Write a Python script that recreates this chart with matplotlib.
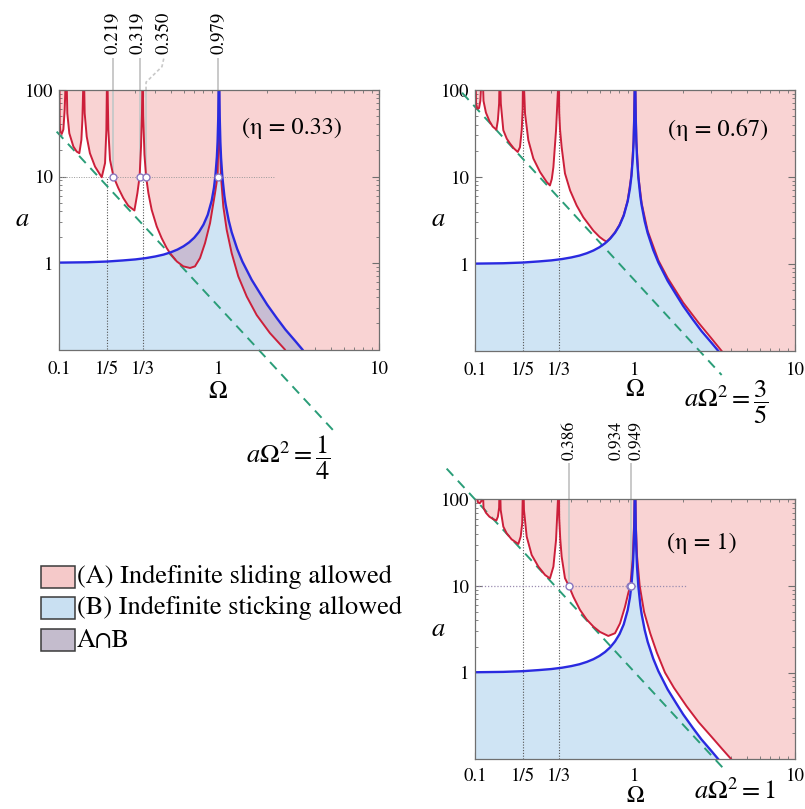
import matplotlib
matplotlib.use("Agg")
import matplotlib.pyplot as plt
import numpy as np
from matplotlib.patches import Rectangle
from matplotlib import transforms
from matplotlib.ticker import LogLocator, NullFormatter

plt.rcParams['font.family'] = ['STIXGeneral', 'DejaVu Serif']
plt.rcParams['mathtext.fontset'] = 'stix'

# ---------------- data ----------------
# sticking boundary (blue), same in all panels
blue_left_x = [0.1, 0.15, 0.2, 0.25, 0.3, 0.35, 0.4, 0.45, 0.5, 0.55, 0.6, 0.65, 0.7,
               0.75, 0.8, 0.85, 0.9, 0.93, 0.95, 0.97, 0.98, 0.99, 0.995, 0.998]
blue_left_a = [1.01, 1.02, 1.04, 1.07, 1.10, 1.14, 1.19, 1.25, 1.33, 1.43, 1.56, 1.73, 1.96,
               2.29, 2.78, 3.60, 5.26, 7.4, 10.3, 16.9, 25.3, 50, 100, 250]
blue_right_x = [1.002, 1.005, 1.01, 1.02, 1.03, 1.05, 1.08, 1.1, 1.15, 1.2, 1.3, 1.4, 1.6,
                1.8, 2.0, 2.3, 2.6, 3.0, 3.32]
blue_right_a = [250, 100, 50, 25, 16.4, 9.8, 6.0, 4.76, 3.10, 2.27, 1.45, 1.04, 0.64,
                0.45, 0.33, 0.23, 0.17, 0.125, 0.10]

# sliding boundary (red), eta = 0.33
red1_x = [0.1005, 0.101, 0.102, 0.104, 0.1065, 0.1085, 0.1111,
          0.1127, 0.116, 0.123, 0.129, 0.134, 0.138, 0.140, 0.1429,
          0.1447, 0.149, 0.156, 0.168, 0.180, 0.185, 0.194, 0.1977, 0.2,
          0.2034, 0.2083, 0.219, 0.235, 0.2525, 0.271, 0.296, 0.309, 0.319, 0.3256, 0.330, 0.3333,
          0.336, 0.342, 0.350, 0.362, 0.3795, 0.408, 0.438, 0.471, 0.494, 0.544, 0.598, 0.659,
          0.708, 0.761, 0.818, 0.879, 0.922, 0.944, 0.979, 0.993, 1.0,
          1.004, 1.0145, 1.029, 1.064, 1.117, 1.20, 1.32, 1.49, 1.72, 2.08, 2.58]
red1_a = [200, 41, 33, 31, 35, 59, 200,
          53.8, 31.6, 22.2, 19.4, 18.6, 26.5, 45.1, 200,
          53.8, 28.9, 18.6, 13.0, 10.6, 9.8, 14.3, 34.5, 200,
          34.5, 15.6, 10, 7.33, 5.62, 4.59, 4.05, 6.42, 10, 22.2, 53.8, 200,
          50, 18, 10, 6.42, 4.12, 2.65, 1.94, 1.49, 1.30, 1.045, 0.915, 0.876,
          0.915, 1.14, 1.70, 2.89, 4.92, 6.4, 10, 30, 200,
          60, 22.2, 10, 4.5, 2.42, 1.30, 0.70, 0.41, 0.25, 0.155, 0.1]

# eta = 0.67
red2_x = [0.1005, 0.1015, 0.1035, 0.106, 0.108, 0.1111,
          0.113, 0.117, 0.123, 0.129, 0.136, 0.139, 0.1415, 0.1429,
          0.145, 0.1503, 0.158, 0.1656, 0.175, 0.185, 0.191, 0.196, 0.1985, 0.2,
          0.2054, 0.2154, 0.2316, 0.255, 0.2807, 0.294, 0.302, 0.309, 0.321, 0.330, 0.3333,
          0.336, 0.34, 0.348, 0.365, 0.393, 0.432, 0.475, 0.549, 0.60, 0.634, 0.665,
          0.70, 0.75, 0.80, 0.85, 0.90, 0.95, 0.98, 0.995, 1.0,
          1.005, 1.02, 1.05, 1.1, 1.2, 1.4, 1.6, 2.0, 2.5, 3.0, 3.48]
red2_a = [200, 70, 61, 62, 75, 200,
          75, 55, 44, 38, 35, 45, 70, 200,
          70, 34.5, 27.5, 24.2, 21.3, 19.4, 22, 35, 60, 200,
          53.8, 26.5, 16.3, 11.4, 8.75, 8.0, 9.5, 13.0, 34.5, 100, 200,
          55, 35, 22, 11, 7.0, 4.7, 3.45, 2.42, 2.05, 1.9, 1.8,
          1.98, 2.31, 2.81, 3.65, 5.35, 10.5, 26, 100, 200,
          100, 26, 10.2, 5.0, 2.4, 1.1, 0.69, 0.36, 0.21, 0.14, 0.1]

# eta = 1
red3_x = [0.1005, 0.104, 0.107, 0.1095, 0.1111,
          0.113, 0.117, 0.123, 0.13, 0.136, 0.139, 0.1415, 0.1429,
          0.1447, 0.1503, 0.1577, 0.1694, 0.1866, 0.193, 0.1973, 0.2,
          0.2023, 0.2104, 0.226, 0.249, 0.274, 0.294, 0.309, 0.321, 0.330, 0.3333,
          0.336, 0.341, 0.348, 0.365, 0.386, 0.412, 0.453, 0.499, 0.549, 0.604, 0.681,
          0.75, 0.806, 0.866, 0.908, 0.934, 0.967, 0.99, 1.0,
          1.004, 1.011, 1.03, 1.07, 1.14, 1.245, 1.37, 1.54, 1.75, 2.1, 2.5, 3.0, 3.5, 4.0]
red3_a = [200, 93, 90, 95, 200,
          80, 70, 63, 59, 57, 63, 80, 200,
          75.4, 48.4, 40.5, 34.5, 30.5, 37.1, 52.8, 200,
          75.4, 37.1, 22.8, 16.7, 13.4, 12.2, 16.7, 34.0, 100, 200,
          60, 35, 21.8, 12.3, 10, 7.5, 5.3, 4.1, 3.4, 2.95, 2.65,
          2.85, 3.7, 5.75, 8.3, 10, 20, 60, 200,
          150, 55, 22, 10, 5, 2.84, 1.7, 1.0, 0.67, 0.41, 0.268, 0.183, 0.132, 0.1]

# dashed asymptotes a*Omega^2 = const (end points)
green1_x = [0.0967, 5.16]
green1_a = [33.0, 0.0117]
green2_x = [0.083, 3.48]
green2_a = [93.0, 0.053]
green3_x = [0.0665, 3.74]
green3_a = [226.0, 0.0715]

# crossing markers at a = 10
mark1_x = [0.219, 0.319, 0.350, 0.979]
mark3_x = [0.386, 0.934, 0.949]
mark_a = 10

xtick_vals = [0.1, 0.2, 1/3, 1, 10]
xtick_labels = ['0.1', '1/5', '1/3', '1', '10']
ytick_vals = [1, 10, 100]
ytick_labels = ['1', '10', '100']
eta_labels = ['(η = 0.33)', '(η = 0.67)', '(η = 1)']
legend_labels = ['(A) Indefinite sliding allowed', '(B) Indefinite sticking allowed', 'A∩B']

# ---------------- style ----------------
PINK = '#F9D3D3'
BLUEF = '#CFE4F4'
OVER = '#C8BDD3'
RED = '#CC1F3A'
BLUE = '#2A2AE0'
GREEN = '#2A9D78'
FRAME = '#6f6f6f'

W, H = 805, 809
fig = plt.figure(figsize=(W / 100, H / 100), dpi=100)


def fx(px):
    return px / W


def fy(py):
    return 1 - py / H


def make_ax(x0, x1, y0, y1):
    return fig.add_axes([fx(x0), fy(y1), (x1 - x0) / W, (y1 - y0) / H])


def panel(ax, rx, ra, gx, ga, xpad=8):
    ax.set_xscale('log')
    ax.set_yscale('log')
    ax.set_xlim(0.1, 10)
    ax.set_ylim(0.1, 100)
    # region A : above red boundary
    Ax = list(rx) + [10, 10, rx[0]]
    Aa = list(ra) + [0.05, 400, 400]
    ax.fill(Ax, Aa, color=PINK, lw=0, zorder=1)
    # region B : below blue boundary
    Bx = list(blue_left_x) + list(blue_right_x) + [blue_right_x[-1], 0.1]
    Ba = list(blue_left_a) + list(blue_right_a) + [0.05, 0.05]
    polyB = ax.fill(Bx, Ba, color=BLUEF, lw=0, zorder=2)[0]
    polyO = ax.fill(Ax, Aa, color=OVER, lw=0, zorder=3)[0]
    polyO.set_clip_path(polyB)
    polyO.set_clip_box(ax.bbox)
    # curves
    ax.plot(gx, ga, color=GREEN, lw=1.4, ls=(0, (5, 3.5)), zorder=5, clip_on=False)
    ax.plot(rx, ra, color=RED, lw=1.4, zorder=6)
    ax.plot(blue_left_x, blue_left_a, color=BLUE, lw=1.7, zorder=7)
    ax.plot(blue_right_x, blue_right_a, color=BLUE, lw=1.7, zorder=7)
    # ticks
    ax.set_xticks(xtick_vals)
    ax.set_xticklabels(xtick_labels)
    ax.set_yticks(ytick_vals)
    ax.set_yticklabels(ytick_labels)
    ax.xaxis.set_minor_locator(LogLocator(base=10, subs=np.arange(2, 10) * 1.0, numticks=20))
    ax.yaxis.set_minor_locator(LogLocator(base=10, subs=np.arange(2, 10) * 1.0, numticks=20))
    ax.xaxis.set_minor_formatter(NullFormatter())
    ax.yaxis.set_minor_formatter(NullFormatter())
    ax.tick_params(which='both', direction='in', top=True, right=True, color=FRAME)
    ax.tick_params(which='major', length=5, width=0.8, labelsize=13.5)
    ax.tick_params(axis='x', which='major', pad=xpad)
    ax.tick_params(axis='y', which='major', pad=4)
    ax.tick_params(which='minor', length=2.5, width=0.6)
    for s in ax.spines.values():
        s.set_color(FRAME)
        s.set_linewidth(0.9)
        s.set_zorder(10)


ax1 = make_ax(59, 379, 90, 349.5)
ax2 = make_ax(475, 795, 90, 351)
ax3 = make_ax(475, 795, 499.3, 759.3)

panel(ax1, red1_x, red1_a, green1_x, green1_a)
panel(ax2, red2_x, red2_a, green2_x, green2_a)
panel(ax3, red3_x, red3_a, green3_x, green3_a, xpad=6.5)

DOT = dict(ls=(0, (1, 1.5)), color='#555555', lw=0.8, zorder=4)
# panel 1 guides
for v in [0.2, 1/3]:
    ax1.plot([v, v], [0.1, 10], **DOT)
ax1.plot([0.1, 2.2], [10, 10], ls=(0, (1, 1.5)), color='#999999', lw=0.7, zorder=4)
# panel 2 guides
for v in [0.2, 1/3]:
    ax2.plot([v, v], [0.1, 100], **DOT)
# panel 3 guides
for v in [0.2, 1/3]:
    ax3.plot([v, v], [0.1, 100], **DOT)
ax3.plot([0.1, 2.1], [10, 10], ls=(0, (1, 1.5)), color='#9a8cb0', lw=0.9, zorder=4)

LEAD = dict(color='#c9c9c9', lw=1.4, zorder=4, solid_capstyle='butt')
# leader lines panel 1
t1 = transforms.blended_transform_factory(ax1.transData, ax1.transAxes)
for v in [0.219, 0.319, 0.979]:
    ax1.plot([v, v], [mark_a, 100], **LEAD)
    ax1.plot([v, v], [1.0, 1.125], transform=t1, clip_on=False, **LEAD)
ax1.plot([0.350, 0.350], [mark_a, 100], **LEAD)
ax1.plot([0.350, 0.350, 0.44, 0.453], [1.0, 1.03, 1.09, 1.125], transform=t1,
         clip_on=False, color='#c9c9c9', lw=1.2, ls=(0, (2, 1.5)))
# leader lines panel 3
t3 = transforms.blended_transform_factory(ax3.transData, ax3.transAxes)
for v in [0.386, 0.94]:
    ax3.plot([v, v], [mark_a, 100], **LEAD)
    ax3.plot([v, v], [1.0, 1.14], transform=t3, clip_on=False, **LEAD)

MK = dict(marker='o', ms=5, mfc='white', mec='#8a78c0', mew=1.0, ls='none', zorder=9)
ax1.plot(mark1_x, [mark_a] * len(mark1_x), **MK)
ax3.plot(mark3_x, [mark_a] * len(mark3_x), **MK)

# rotated crossing labels
for px, txt in [(113, '0.219'), (138, '0.319'), (164, '0.350'), (218, '0.979')]:
    fig.text(fx(px), fy(33), txt, rotation=90, ha='center', va='center', fontsize=13.5)
for px, txt in [(570, '0.386'), (616, '0.934'), (636, '0.949')]:
    fig.text(fx(px), fy(440), txt, rotation=90, ha='center', va='center', fontsize=12.5)

# eta labels
fig.text(fx(292), fy(128), eta_labels[0], ha='center', va='center', fontsize=17.5)
fig.text(fx(718), fy(130), eta_labels[1], ha='center', va='center', fontsize=17.5)
fig.text(fx(702), fy(543), eta_labels[2], ha='center', va='center', fontsize=17.5)

# axis labels
for (px, py) in [(22, 220), (438, 220), (438, 630)]:
    fig.text(fx(px), fy(py), r'$a$', ha='center', va='center', fontsize=19)
for (px, py) in [(218, 392), (635, 390)]:
    fig.text(fx(px), fy(py), 'Ω', ha='center', va='center', fontsize=18)
fig.text(fx(635), fy(807), 'Ω', ha='center', va='bottom', fontsize=17)

# asymptote labels
fig.text(fx(288), fy(458), r'$a\Omega^2 = \dfrac{1}{4}$', ha='center', va='center', fontsize=19)
fig.text(fx(726), fy(402), r'$a\Omega^2 = \dfrac{3}{5}$', ha='center', va='center', fontsize=19)
fig.text(fx(735), fy(792), r'$a\Omega^2 = 1$', ha='center', va='center', fontsize=19)

# legend
leg_cols = ['#F5C9C9', '#C9E0F2', '#C4BCCD']
leg_y = [577, 608, 640]
for c, yc, lab in zip(leg_cols, leg_y, legend_labels):
    fig.add_artist(Rectangle((fx(41), fy(yc + 11)), 34 / W, 22 / H, transform=fig.transFigure,
                             facecolor=c, edgecolor='#3a3a3a', lw=1.1))
    fig.text(fx(77), fy(yc), lab, ha='left', va='center', fontsize=19)

fig.savefig('out.png', dpi=100)
